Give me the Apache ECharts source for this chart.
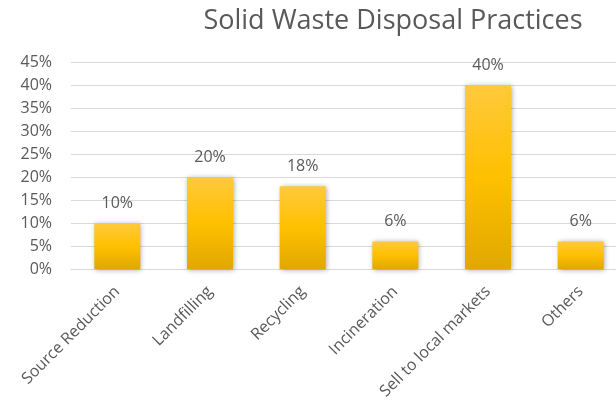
<!DOCTYPE html>
<html>
<head>
<meta charset="utf-8">
<script src="https://cdn.jsdelivr.net/npm/echarts@6/dist/echarts.min.js"></script>
<style>
  html, body { margin: 0; padding: 0; background: #fff; overflow: hidden; width: 616px; height: 415px; }
  /* the plot runs past the right edge of the page, so the canvas is wider than the window */
  #chart { width: 632px; height: 415px; }
</style>
</head>
<body>
<div id="chart"></div>
<script>
// Share of each disposal practice, in percent
const categories = ['Source Reduction', 'Landfilling', 'Recycling', 'Incineration', 'Sell to local markets', 'Others'];
const shares = [10, 20, 18, 6, 40, 6];
const yTicks = [0, 5, 10, 15, 20, 25, 30, 35, 40, 45];

const textColor = '#595959';
const font = '"Open Sans", "Liberation Sans", sans-serif';

const chart = echarts.init(document.getElementById('chart'));
chart.setOption({
  animation: false,
  title: {
    text: 'Solid Waste Disposal Practices',
    left: 388,
    top: 3,
    textAlign: 'center',
    textStyle: { color: textColor, fontSize: 27, fontWeight: 'normal', fontFamily: font }
  },
  grid: { left: 71, top: 62, width: 556, height: 207 },
  xAxis: {
    type: 'category',
    data: categories,
    axisLine: { lineStyle: { color: '#D9D9D9' } },
    axisTick: { show: false },
    axisLabel: {
      rotate: 45,
      margin: 20,
      interval: 0,
      color: textColor,
      fontSize: 16,
      fontFamily: font
    }
  },
  yAxis: {
    type: 'value',
    min: yTicks[0],
    max: yTicks[yTicks.length - 1],
    interval: yTicks[1] - yTicks[0],
    axisLine: { show: false },
    axisTick: { show: false },
    splitLine: { lineStyle: { color: '#D9D9D9', width: 1 } },
    axisLabel: {
      formatter: v => v + '%',
      color: textColor,
      fontSize: 16,
      fontFamily: font,
      margin: 19
    }
  },
  series: [{
    type: 'bar',
    data: shares,
    barWidth: 46,
    itemStyle: {
      color: new echarts.graphic.LinearGradient(0, 0, 0, 1, [
        { offset: 0, color: '#FFC93C' },
        { offset: 0.5, color: '#FFC000' },
        { offset: 1, color: '#E0A800' }
      ]),
      shadowColor: 'rgba(0,0,0,0.35)',
      shadowBlur: 5,
      shadowOffsetX: 1,
      shadowOffsetY: 1
    },
    label: {
      show: true,
      position: 'top',
      distance: 12,
      formatter: p => p.value + '%',
      color: textColor,
      fontSize: 16,
      fontFamily: font
    }
  }]
});
</script>
</body>
</html>
